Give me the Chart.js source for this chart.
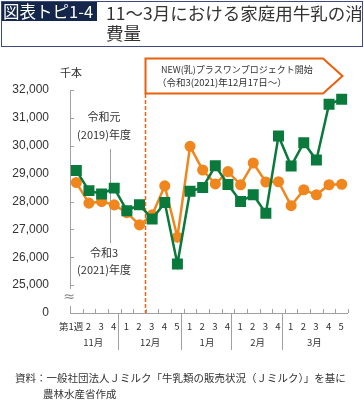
<!DOCTYPE html>
<html lang="ja">
<head>
<meta charset="utf-8">
<script src="https://cdn.jsdelivr.net/npm/chart.js@4"></script>
<style>
  html, body { margin: 0; padding: 0; background: #fff; }
  body { width: 364px; height: 407px; position: relative; overflow: hidden;
         font-family: "Noto Sans CJK JP", sans-serif; color: #333; }
  canvas { position: absolute; left: 0; top: 0; }
  #titlebox { position: absolute; left: 1px; top: 1px; width: 360px; height: 44px;
              border: 1px solid #3d4b7d; }
  #tag { position: absolute; left: 2px; top: 2px; height: 19px; width: 95px;
         background: #14264a; color: #fff; font-size: 16.5px; line-height: 19px;
         white-space: nowrap; padding-left: 1px; box-sizing: border-box; }
  #heading { position: absolute; left: 106px; top: 3px; font-size: 17.5px;
             line-height: 20px; white-space: nowrap; color: #333; }
  #note { position: absolute; left: 15px; top: 370px; font-size: 10.5px;
          line-height: 15.5px; white-space: nowrap; color: #333; }
  #note .l2 { padding-left: 28px; }
</style>
</head>
<body>
<canvas id="chart" width="364" height="407"></canvas>
<div id="titlebox"></div>
<div id="tag">図表トピ1-4</div>
<div id="heading">11～3月における家庭用牛乳の消<br>費量</div>
<div id="note">資料：一般社団法人Ｊミルク「牛乳類の販売状況（Ｊミルク）」を基に<br><span class="l2">農林水産省作成</span></div>
<script>
// 週ラベル（11月～3月）
const weekLabels = ['第1週', '2', '3', '4', '1', '2', '3', '4', '5', '1', '2', '3', '4',
  '1', '2', '3', '4', '1', '2', '3', '4', '5']
const months = ['11月', '12月', '1月', '2月', '3月']
const weeksPerMonth = [4, 5, 4, 4, 5]

// 千本
const reiwa1 = [28680, 27940, 28000, 27880, 27600, 27160, 27520, 28560, 26720, 29980, 29130,
  28630, 29070, 28600, 29380, 28700, 28710, 27850, 28420, 28240, 28600, 28620]
const reiwa3 = [29110, 28390, 28270, 28480, 27670, 27880, 27370, 27960, 25760, 28370, 28500,
  29280, 28610, 28000, 28240, 27580, 30350, 29270, 30110, 29490, 31490, 31670]

const yMin = 24000   // shown as 0 (axis break)
const yMax = 32000
const yStep = 1000
const projectStart = 5.5 // between 12月 week 2 and 3 (12/17)

const green = '#0a7a3c'
const orange = '#f0861e'
const axisGray = '#a0a0a0'

const extras = {
  id: 'extras',
  beforeDatasetsDraw(chart) {
    const { ctx, chartArea: a, scales: { x, y } } = chart
    ctx.save()
    ctx.strokeStyle = axisGray
    ctx.lineWidth = 1

    // y axis with break
    const y25 = y.getPixelForValue(25000)
    ctx.beginPath()
    ctx.moveTo(a.left + 0.5, y.getPixelForValue(yMax))
    ctx.lineTo(a.left + 0.5, y25 + 4)
    ctx.moveTo(a.left + 0.5, a.bottom - 7)
    ctx.lineTo(a.left + 0.5, a.bottom)
    for (let v = 25000; v <= yMax; v += yStep) {
      const py = Math.round(y.getPixelForValue(v)) + 0.5
      ctx.moveTo(a.left, py)
      ctx.lineTo(a.left + 4, py)
    }
    // x axis
    ctx.moveTo(a.left, a.bottom + 0.5)
    ctx.lineTo(a.right, a.bottom + 0.5)
    for (let i = 0; i <= weekLabels.length; i++) {
      const px = Math.round(x.getPixelForValue(i - 0.5)) + 0.5
      ctx.moveTo(px, a.bottom)
      ctx.lineTo(px, a.bottom - 4)
    }
    // month separators
    let idx = 0
    for (let m = 0; m < weeksPerMonth.length - 1; m++) {
      idx += weeksPerMonth[m]
      const px = Math.round(x.getPixelForValue(idx - 0.5)) - 2.5
      ctx.moveTo(px, a.bottom)
      ctx.lineTo(px, a.bottom + 37)
    }
    // pointer line between year labels
    ctx.moveTo(110.5, 149)
    ctx.lineTo(110.5, 243)
    ctx.stroke()

    ctx.fillStyle = '#888'
    ctx.font = '14px "DejaVu Sans"'
    ctx.textAlign = 'center'
    ctx.textBaseline = 'middle'
    ctx.fillText('≈', a.left - 1, y25 + 12)

    // 千本
    ctx.fillStyle = '#333'
    ctx.font = '11px "Noto Sans CJK JP"'
    ctx.fillText('千本', 71, 73)

    // year labels
    ctx.fillText('令和元', 104, 117)
    ctx.fillText('(2019)年度', 104, 135)
    ctx.fillText('令和3', 104, 253)
    ctx.fillText('(2021)年度', 104, 270)

    // x labels
    ctx.font = '9.5px "Noto Sans CJK JP"'
    weekLabels.forEach((lab, i) => {
      const px = x.getPixelForValue(i)
      if (i === 0) {
        ctx.textAlign = 'right'
        ctx.fillText(lab, px + 7, a.bottom + 13)
      } else {
        ctx.textAlign = 'center'
        ctx.fillText(lab, px - 0.5, a.bottom + 13)
      }
    })
    ctx.textAlign = 'center'
    idx = 0
    months.forEach((mon, m) => {
      const first = x.getPixelForValue(idx)
      const last = x.getPixelForValue(idx + weeksPerMonth[m] - 1)
      ctx.fillText(mon, (first + last) / 2 - 2, a.bottom + 29)
      idx += weeksPerMonth[m]
    })

    // project start: dashed line + arrow box
    const sx = Math.round(x.getPixelForValue(projectStart)) - 0.5
    ctx.strokeStyle = '#f0640f'
    ctx.lineWidth = 1.5
    ctx.setLineDash([4, 2])
    ctx.beginPath()
    ctx.moveTo(sx, 94)
    ctx.lineTo(sx, a.bottom)
    ctx.stroke()
    ctx.setLineDash([])

    ctx.strokeStyle = '#e8600c'
    ctx.lineWidth = 2
    ctx.fillStyle = '#fff'
    ctx.beginPath()
    ctx.moveTo(sx, 58.5)
    ctx.lineTo(323, 58.5)
    ctx.lineTo(342.5, 76)
    ctx.lineTo(323, 93.5)
    ctx.lineTo(sx, 93.5)
    ctx.closePath()
    ctx.fill()
    ctx.stroke()

    ctx.fillStyle = '#333'
    ctx.font = '9px "Noto Sans CJK JP"'
    ctx.textAlign = 'left'
    ctx.fillText('NEW(乳)プラスワンプロジェクト開始', 161, 70)
    ctx.font = '9.5px "Noto Sans CJK JP"'
    ctx.fillText('（令和3(2021)年12月17日～）', 157, 82)
    ctx.restore()
  }
}

const ctx = document.getElementById('chart')

new Chart(ctx, {
  type: 'line',
  data: {
    labels: weekLabels,
    datasets: [
      {
        label: '令和3(2021)年度',
        data: reiwa3,
        borderColor: green,
        backgroundColor: green,
        pointBackgroundColor: green,
        pointBorderColor: green,
        pointStyle: 'rect',
        pointRadius: 6,
        borderWidth: 2.5,
        order: 0
      },
      {
        label: '令和元(2019)年度',
        data: reiwa1,
        borderColor: orange,
        backgroundColor: orange,
        pointBackgroundColor: orange,
        pointBorderColor: orange,
        pointStyle: 'circle',
        pointRadius: 4.3,
        borderWidth: 2.5,
        order: 1
      }
    ]
  },
  options: {
    responsive: false,
    animation: false,
    devicePixelRatio: 1,
    layout: { padding: { top: 90, right: 16, bottom: 54, left: 0 } },
    plugins: {
      legend: { display: false },
      tooltip: { enabled: false }
    },
    scales: {
      x: {
        offset: true,
        grid: { display: false },
        border: { display: false },
        ticks: { display: false },
        afterFit: s => { s.height = 40 }
      },
      y: {
        min: yMin,
        max: yMax,
        grid: { display: false },
        border: { display: false },
        ticks: {
          stepSize: yStep,
          padding: 13,
          color: '#333',
          font: { family: 'Liberation Sans', size: 12 },
          callback: v => v === yMin ? '0' : v.toLocaleString('en-US')
        },
        afterFit: s => { s.width = 70 }
      }
    }
  },
  plugins: [extras]
})
</script>
</body>
</html>
